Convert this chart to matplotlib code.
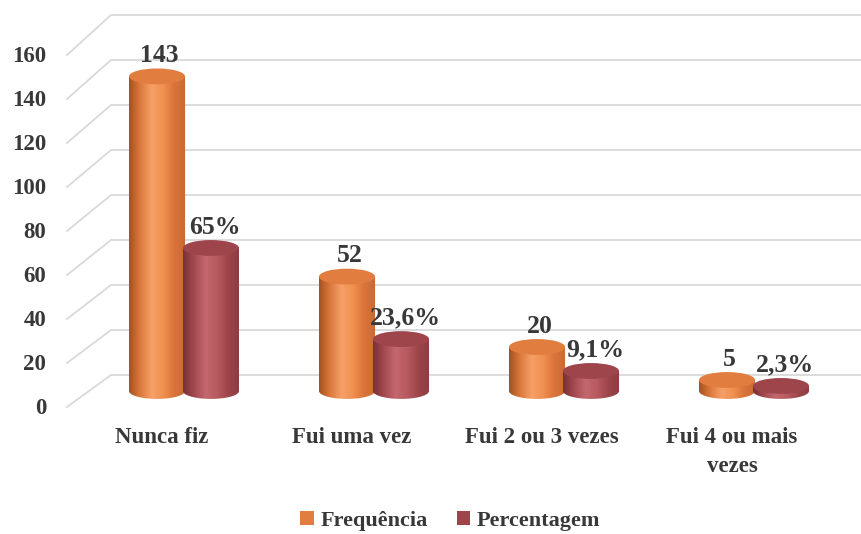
import numpy as np
import matplotlib.pyplot as plt
from matplotlib.patches import Ellipse, Patch, Polygon
from matplotlib.colors import LinearSegmentedColormap
from matplotlib.transforms import blended_transform_factory, ScaledTranslation

# dados
categorias = ['Nunca fiz', 'Fui uma vez', 'Fui 2 ou 3 vezes', 'Fui 4 ou mais\nvezes']
frequencia = [143, 52, 20, 5]
percentagem = [65, 23.6, 9.1, 2.3]
rot_freq = ['143', '52', '20', '5']
rot_perc = ['65%', '23,6%', '9,1%', '2,3%']
ticks_y = [0, 20, 40, 60, 80, 100, 120, 140, 160]
series = ['Frequência', 'Percentagem']

plt.rcParams['font.family'] = ['Liberation Serif', 'DejaVu Serif']
plt.rcParams['font.weight'] = 'bold'
txt = '#383838'

cm_lar = LinearSegmentedColormap.from_list('lar', ['#a4521f', '#dc7a3e', '#f6a068', '#f09050', '#d9733a', '#c86a34'])
cm_verm = LinearSegmentedColormap.from_list('verm', ['#7a2f34', '#a44b51', '#c4686e', '#b85a60', '#9c4449', '#8c3c42'])
topo_lar = '#e27d40'
topo_verm = '#9e454c'

fig = plt.figure(figsize=(8.61, 5.34), dpi=100)

# parede do fundo (pixels)
bg = fig.add_axes([0, 0, 1, 1])
bg.set_xlim(0, 861)
bg.set_ylim(534, 0)
bg.axis('off')
for t in ticks_y:
    yb = 375 - 2.25 * t
    yf = 407 - 2.2 * t
    bg.plot([67, 111, 861], [yf, yb, yb], color='#d9d9d9', lw=1.3, zorder=0)
    bg.text(46, yf + 1, str(t), ha='right', va='center', fontsize=16.5, color=txt)

# cilindros
ax = fig.add_axes([0, 0.2266, 1, 0.721])
ax.patch.set_alpha(0)
ax.axis('off')
ax.set_autoscale_on(False)
ax.set_xlim(-184 / 190, 677 / 190)
ax.set_ylim(-10, 165)

larg = 0.295
dx = 0.142
ry = 3.6


def cilindro(xc, v, cmap, topo, z):
    rx = larg / 2
    th = np.linspace(np.pi, 2 * np.pi, 80)
    pts = [(xc - rx, v)] + list(zip(xc + rx * np.cos(th), ry * np.sin(th))) + [(xc + rx, v)]
    corpo = Polygon(pts, closed=True, fc='none', ec='none')
    ax.add_patch(corpo)
    grad = np.linspace(0, 1, 256).reshape(1, -1)
    im = ax.imshow(grad, cmap=cmap, extent=(xc - rx, xc + rx, -ry, v),
                   aspect='auto', zorder=z, interpolation='bicubic')
    im.set_clip_path(corpo)
    ax.add_patch(Ellipse((xc, v), larg, 2 * ry, fc=topo, ec='none', zorder=z + 0.1))


for i in range(len(categorias)):
    cilindro(i - dx, frequencia[i], cm_lar, topo_lar, 2)
    cilindro(i + dx, percentagem[i], cm_verm, topo_verm, 3)
    ax.annotate(rot_freq[i], (i - dx, frequencia[i]), xytext=(2, 15), textcoords='offset points',
                ha='center', va='center', fontsize=18.5, color=txt)
    ax.annotate(rot_perc[i], (i + dx, percentagem[i]), xytext=(3, 15), textcoords='offset points',
                ha='center', va='center', fontsize=18.5, color=txt)

# rotulos das categorias
tr = blended_transform_factory(ax.transData, bg.transData) + ScaledTranslation(-0.22, 0, fig.dpi_scale_trans)
for i, c in enumerate(categorias):
    bg.text(i, 427, c, transform=tr, ha='center', va='top', fontsize=16.5,
            color=txt, linespacing=1.5)

# legenda
hs = [Patch(fc=topo_lar, ec='none'), Patch(fc=topo_verm, ec='none')]
fig.legend(hs, series, loc='center', bbox_to_anchor=(0.523, 0.024), ncol=2, frameon=False,
           handlelength=0.6, handleheight=0.6, handletextpad=0.3, columnspacing=1.3,
           prop={'size': 16, 'weight': 'bold'}, labelcolor=txt)

fig.savefig('out.png', dpi=100)
